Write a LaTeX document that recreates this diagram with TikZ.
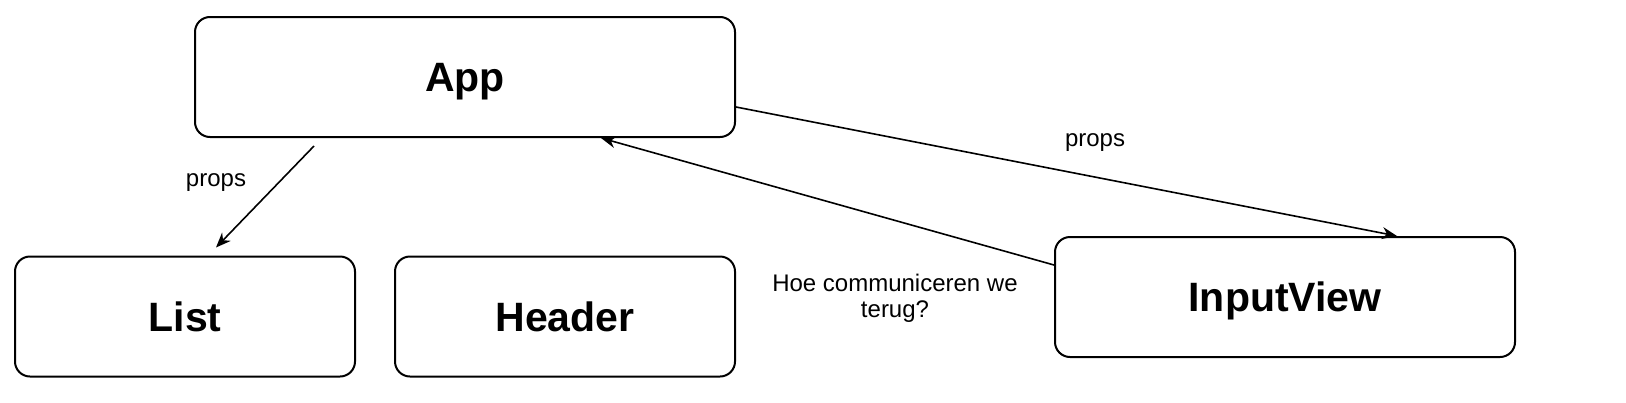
\documentclass[tikz,border=0pt]{standalone}
\usepackage{fontspec}
\setmainfont{Liberation Sans}
\usetikzlibrary{arrows.meta, positioning}

\begin{document}
\begin{tikzpicture}[x=0.5pt, y=-0.5pt,
    box/.style={rectangle, rounded corners=7.5pt, draw, line width=1pt, minimum width=170pt, minimum height=60pt, text height=15pt, text depth=0.4pt, align=center, font=\fontsize{20.5}{24}\selectfont\bfseries},
    arrow/.style={-{Stealth[length=7.5pt, width=6pt]}, line width=0.8pt},
    lbl/.style={align=center, font=\fontsize{12}{13}\selectfont}
]
\useasboundingbox (0,0) rectangle (1626,402);

\node[box, minimum width=270pt] (app) at (465,77) {App};
\node[box] (list) at (185,316.5) {List};
\node[box] (header) at (565,316.5) {Header};
\node[box, minimum width=230pt] (inputview) at (1285,297) {InputView};

\node[lbl] (propslist) at (216,183) {props};
\node[lbl] (propsinput) at (1095,143) {props};
\node[lbl] (terug) at (895,298) {Hoe communiceren we\\terug?};

\draw[arrow] ([xshift=-75.5pt, yshift=-4pt]app.south) -- ([xshift=15.5pt, yshift=4pt]list.north);
\draw[arrow] ([yshift=-15pt]app.east) -- ([xshift=56pt]inputview.north);
\draw[arrow] ([yshift=16pt]inputview.west) -- ([xshift=68pt]app.south);

\end{tikzpicture}
\end{document}
